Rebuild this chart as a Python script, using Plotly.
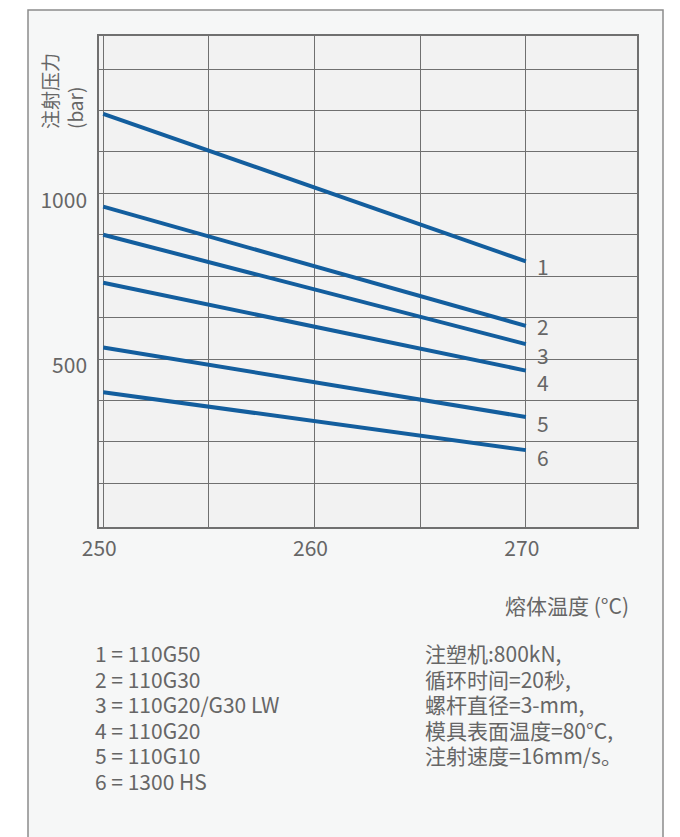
import plotly.graph_objects as go

# Melt temperature (°C) at the two ends of each curve
temperature = [250, 270]

# Injection pressure (bar) per grade
series_ids = ["1", "2", "3", "4", "5", "6"]
pressure = {
    "1": [1240, 795],
    "2": [960, 600],
    "3": [875, 545],
    "4": [730, 465],
    "5": [535, 325],
    "6": [400, 225],
}

legend_lines = [
    "1 = 110G50",
    "2 = 110G30",
    "3 = 110G20/G30 LW",
    "4 = 110G20",
    "5 = 110G10",
    "6 = 1300 HS",
]

condition_lines = [
    "注塑机:800kN,",
    "循环时间=20秒,",
    "螺杆直径=3-mm,",
    "模具表面温度=80°C,",
    "注射速度=16mm/s。",
]

x_ticks = [250, 255, 260, 265, 270]
x_tick_text = ["250", "", "260", "", "270"]
y_ticks = [125, 250, 375, 500, 625, 750, 875, 1000, 1125, 1250, 1375]
y_tick_text = ["", "", "", "500", "", "", "", "1000", "", "", ""]

x_title = "熔体温度 (°C)"
y_title = "注射压力<br>(bar)"

# ---- styling ----
FONT = "Noto Sans CJK SC"
TEXT = "#666666"
BLUE = "#135e9e"
GRID = "#707070"
FS = 21
W, H = 680, 837
L, R, T, B = 99, 637, 36, 527  # plot-area edges in pixels

def px(xp):
    return (xp - L) / (R - L)

def py(yp):
    return (B - yp) / (B - T)

# pixel nudges for the end-of-line number labels (down is negative)
label_yshift = [-5, 0, -11, -11, -6, -7]

fig = go.Figure()
for sid in series_ids:
    fig.add_trace(go.Scatter(
        x=temperature, y=pressure[sid], mode="lines",
        line=dict(color=BLUE, width=4), showlegend=False, hoverinfo="skip",
    ))

shapes = [
    # outer panel
    dict(type="rect", xref="paper", yref="paper",
         x0=px(28), x1=px(663), y0=py(860), y1=py(10),
         fillcolor="#f6f7f7", line=dict(color="#8c8c8c", width=1.5), layer="below"),
    # plot background
    dict(type="rect", xref="paper", yref="paper", x0=0, x1=1, y0=0, y1=1,
         fillcolor="#f2f2f2", line=dict(width=0), layer="below"),
]

annotations = []
for sid, dy in zip(series_ids, label_yshift):
    annotations.append(dict(
        x=temperature[-1], y=pressure[sid][-1], xref="x", yref="y",
        text=sid, showarrow=False, xanchor="left", yanchor="middle",
        xshift=9, yshift=dy, font=dict(family=FONT, size=FS, color=TEXT),
    ))

annotations.append(dict(
    x=px(62), y=py(131), xref="paper", yref="paper", text=y_title,
    textangle=-90, align="left", showarrow=False,
    xanchor="center", yanchor="bottom",
    font=dict(family=FONT, size=19, color=TEXT),
))
annotations.append(dict(
    x=px(631), y=py(605), xref="paper", yref="paper", text=x_title,
    showarrow=False, xanchor="right", yanchor="middle",
    font=dict(family=FONT, size=FS, color=TEXT),
))

# grade key (left) and test conditions (right), one row per line
row0, row_gap = 653, 25.6
for i, t in enumerate(legend_lines):
    annotations.append(dict(
        x=px(93), y=py(row0 + i * row_gap), xref="paper", yref="paper",
        text=t, showarrow=False, xanchor="left", yanchor="middle",
        font=dict(family=FONT, size=FS, color=TEXT),
    ))
for i, t in enumerate(condition_lines):
    annotations.append(dict(
        x=px(423), y=py(row0 + i * row_gap), xref="paper", yref="paper",
        text=t, showarrow=False, xanchor="left", yanchor="middle",
        font=dict(family=FONT, size=FS, color=TEXT),
    ))

fig.update_layout(
    width=W, height=H,
    margin=dict(l=L, r=W - R, t=T, b=H - B),
    paper_bgcolor="white", plot_bgcolor="rgba(0,0,0,0)",
    shapes=shapes, annotations=annotations,
    font=dict(family=FONT, color=TEXT),
)
fig.update_xaxes(
    range=[249.8, 275.26], tickvals=x_ticks, ticktext=x_tick_text,
    showgrid=True, gridcolor=GRID, gridwidth=1.3, zeroline=False,
    showline=True, linecolor=GRID, linewidth=1.5, mirror=True,
    ticks="", ticklabelshift=-4, ticklabelstandoff=2,
    tickfont=dict(family=FONT, size=FS, color=TEXT),
)
fig.update_yaxes(
    range=[-7, 1475], tickvals=y_ticks, ticktext=y_tick_text,
    showgrid=True, gridcolor=GRID, gridwidth=1.3, zeroline=False,
    showline=True, linecolor=GRID, linewidth=1.5, mirror=True,
    ticks="", ticklabelshift=7, ticklabelstandoff=6,
    tickfont=dict(family=FONT, size=FS, color=TEXT),
)

fig.write_html("out.html")
